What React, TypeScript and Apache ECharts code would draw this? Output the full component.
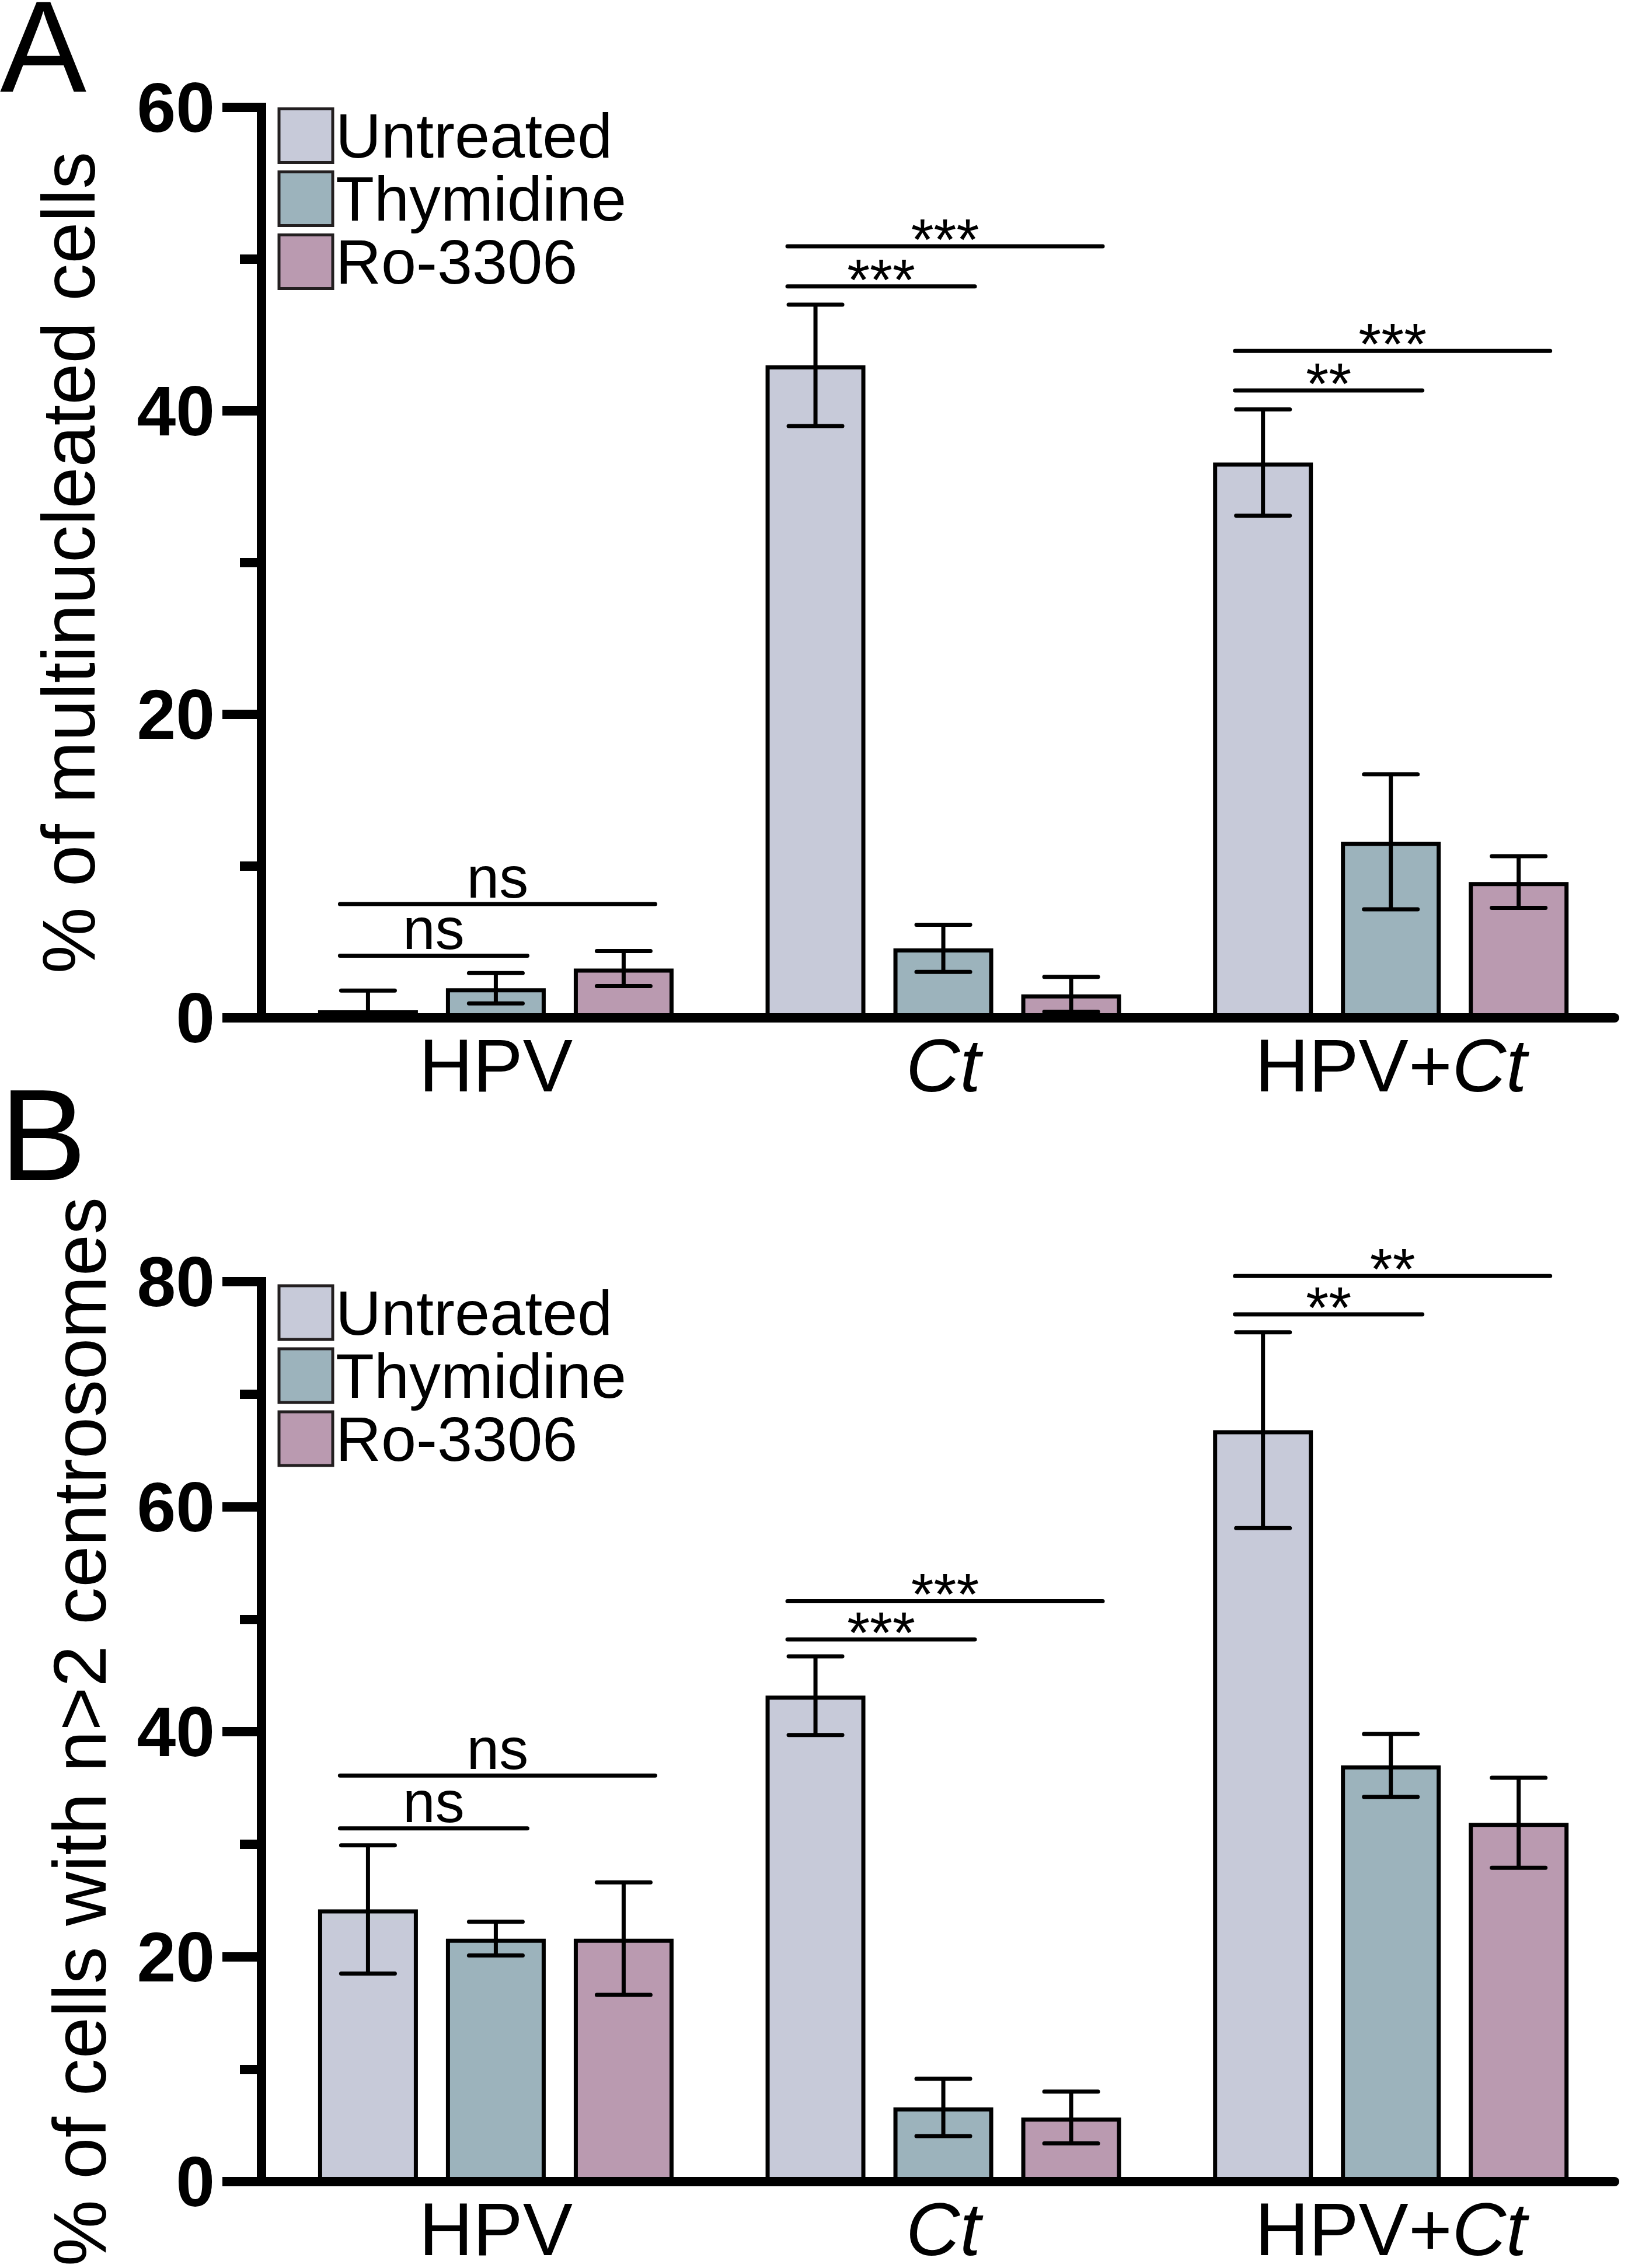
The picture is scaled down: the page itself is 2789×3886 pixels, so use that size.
import React, { useEffect, useRef } from 'react';
import * as echarts from 'echarts';

// ---------------- data ----------------
const CATEGORIES = ['HPV', 'Ct', 'HPV+Ct'];
const TREATMENTS = ['Untreated', 'Thymidine', 'Ro-3306'];
const COLORS = ['#C7CAD9', '#9CB3BC', '#BA9AB0'];

// Panel A: % of multinucleated cells (mean, error)
const A_UNTREATED = [0.5, 43.0, 36.6];
const A_UNTREATED_ERR = [1.3, 4.0, 3.5];
const A_THYMIDINE = [1.95, 4.58, 11.6];
const A_THYMIDINE_ERR = [1.0, 1.55, 4.45];
const A_RO3306 = [3.25, 1.55, 8.95];
const A_RO3306_ERR = [1.15, 1.15, 1.7];

// Panel B: % of cells with n>2 centrosomes (mean, error)
const B_UNTREATED = [24.2, 43.2, 66.8];
const B_UNTREATED_ERR = [5.7, 3.5, 8.7];
const B_THYMIDINE = [21.6, 6.6, 37.0];
const B_THYMIDINE_ERR = [1.5, 2.55, 2.8];
const B_RO3306 = [21.6, 5.7, 31.9];
const B_RO3306_ERR = [5.0, 2.3, 4.0];

// axis ranges
const A_Y_MAX = 60;
const B_Y_MAX = 80;
const Y_INTERVAL = 20;

const A_Y_TITLE = '% of multinucleated cells';
const B_Y_TITLE = '% of cells with n>2 centrosomes';

// significance brackets: [category, fromTreatment, toTreatment, level, label]
const SIG_A: [number, number, number, number, string][] = [
  [0, 0, 1, 4.1, 'ns'],
  [0, 0, 2, 7.5, 'ns'],
  [1, 0, 1, 48.2, '***'],
  [1, 0, 2, 50.85, '***'],
  [2, 0, 1, 41.35, '**'],
  [2, 0, 2, 43.95, '***'],
];
const SIG_B: [number, number, number, number, string][] = [
  [0, 0, 1, 31.4, 'ns'],
  [0, 0, 2, 36.1, 'ns'],
  [1, 0, 1, 48.2, '***'],
  [1, 0, 2, 51.6, '***'],
  [2, 0, 1, 77.1, '**'],
  [2, 0, 2, 80.5, '**'],
];

// ---------------- layout ----------------
const W = 2789;
const H = 3886;
const FONT = "'Liberation Sans', Arial, Helvetica, sans-serif";
const GRID_LEFT = 448;
const GRID_W = 2318;
const GRID_H = 1560;
const GRID_TOPS = [184, 2196];
const X_MIN = -0.5236;
const X_MAX = 2.5;
const BAR_W = 171;
const BAR_PITCH = 219;
const BAR_GAP = (((BAR_PITCH - BAR_W) / BAR_W) * 100).toFixed(2) + '%';
const CAP = 46;
const LW = 7;

const CAT_RICH = CATEGORIES.map((c) =>
  c
    .split(/(Ct)/)
    .filter(Boolean)
    .map((p) => (p === 'Ct' ? `{i|${p}}` : `{n|${p}}`))
    .join('')
);

function buildPanel(
  idx: number,
  values: number[][],
  errs: number[][],
  sig: [number, number, number, number, string][],
  yMax: number,
  yTitle: string,
  nameGap: number
) {
  const xAxis = {
    gridIndex: idx,
    type: 'value',
    min: X_MIN,
    max: X_MAX,
    z: 10,
    axisLine: { show: true, onZero: false, lineStyle: { color: '#000', width: 16 } },
    axisTick: { show: false },
    splitLine: { show: false },
    axisLabel: {
      customValues: [0, 1, 2],
      margin: 33,
      color: '#000',
      fontSize: 128,
      lineHeight: 96,
      fontFamily: FONT,
      formatter: (v: number) => {
        const i = Math.round(v);
        if (Math.abs(v - i) > 1e-6 || i < 0 || i >= CATEGORIES.length) return '';
        return CAT_RICH[i];
      },
      rich: {
        n: { fontSize: 128, lineHeight: 96, fontFamily: FONT, color: '#000' },
        i: { fontSize: 128, lineHeight: 96, fontFamily: FONT, color: '#000', fontStyle: 'italic' },
      },
    },
  };
  const yAxis = {
    gridIndex: idx,
    type: 'value',
    min: 0,
    max: yMax,
    interval: Y_INTERVAL,
    z: 10,
    name: yTitle,
    nameLocation: 'middle',
    nameRotate: 90,
    nameGap,
    nameTextStyle: { fontSize: 128, fontFamily: FONT, color: '#000' },
    axisLine: { show: true, onZero: false, lineStyle: { color: '#000', width: 16, cap: 'square' } },
    axisTick: { show: true, length: 67, lineStyle: { color: '#000', width: 16 } },
    minorTick: { show: true, splitNumber: 2, length: 37, lineStyle: { color: '#000', width: 16 } },
    splitLine: { show: false },
    axisLabel: {
      margin: 80,
      color: '#000',
      fontSize: 120,
      fontWeight: 'bold',
      fontFamily: FONT,
    },
  };

  const bars = TREATMENTS.map((name, s) => ({
    type: 'bar',
    name,
    xAxisIndex: idx,
    yAxisIndex: idx,
    data: values[s].map((v, i) => [i, v]),
    barWidth: BAR_W,
    barGap: BAR_GAP,
    z: 2,
    itemStyle: { color: COLORS[s], borderColor: '#000', borderWidth: LW },
  }));

  const errData: number[][] = [];
  TREATMENTS.forEach((_, s) => {
    values[s].forEach((v, i) => errData.push([i, v, errs[s][i], s]));
  });

  const errSeries = {
    type: 'custom',
    xAxisIndex: idx,
    yAxisIndex: idx,
    z: 5,
    clip: false,
    data: errData,
    encode: { x: 0, y: 1 },
    renderItem: (params: any, api: any) => {
      const cat = api.value(0);
      const m = api.value(1);
      const e = api.value(2);
      const s = api.value(3);
      const base = api.coord([cat, m]);
      const cx = base[0] + (s - 1) * BAR_PITCH;
      const yHi = api.coord([cat, m + e])[1];
      const lo = m - e;
      const yLo = api.coord([cat, Math.max(0, lo)])[1];
      const st = { stroke: '#000', lineWidth: LW, fill: null };
      const capSt = { stroke: '#000', lineWidth: LW, lineCap: 'round', fill: null };
      const children: any[] = [
        { type: 'line', shape: { x1: cx, y1: yHi, x2: cx, y2: yLo }, style: st },
        { type: 'line', shape: { x1: cx - CAP, y1: yHi, x2: cx + CAP, y2: yHi }, style: capSt },
      ];
      if (lo > 0) {
        children.push({ type: 'line', shape: { x1: cx - CAP, y1: yLo, x2: cx + CAP, y2: yLo }, style: capSt });
      }
      return { type: 'group', children };
    },
  };

  const sigSeries = {
    type: 'custom',
    xAxisIndex: idx,
    yAxisIndex: idx,
    z: 6,
    clip: false,
    data: sig.map((r) => [r[0], r[1], r[2], r[3]]),
    encode: { x: 0, y: 3 },
    renderItem: (params: any, api: any) => {
      const label = sig[params.dataIndex][4];
      const cat = api.value(0);
      const from = api.value(1);
      const to = api.value(2);
      const lvl = api.value(3);
      const p = api.coord([cat, lvl]);
      const x1 = p[0] + (from - 1) * BAR_PITCH - 48;
      const x2 = p[0] + (to - 1) * BAR_PITCH + 54;
      const ty = label === 'ns' ? p[1] - 46 : p[1] - 12;
      return {
        type: 'group',
        children: [
          {
            type: 'line',
            shape: { x1, y1: p[1], x2, y2: p[1] },
            style: { stroke: '#000', lineWidth: LW, lineCap: 'round', fill: null },
          },
          {
            type: 'text',
            x: (x1 + x2) / 2,
            y: ty,
            style: {
              text: label,
              fontSize: 100,
              fontFamily: FONT,
              fill: '#000',
              align: 'center',
              verticalAlign: 'middle',
              textAlign: 'center',
              textVerticalAlign: 'middle',
            },
          },
        ],
      };
    },
  };

  return { xAxis, yAxis, series: [...bars, errSeries, sigSeries] };
}

export default function App() {
  const ref = useRef<HTMLDivElement>(null);

  useEffect(() => {
    if (!ref.current) return;
    const chart = echarts.init(ref.current, undefined, { renderer: 'svg', width: W, height: H });

    const pA = buildPanel(
      0,
      [A_UNTREATED, A_THYMIDINE, A_RO3306],
      [A_UNTREATED_ERR, A_THYMIDINE_ERR, A_RO3306_ERR],
      SIG_A,
      A_Y_MAX,
      A_Y_TITLE,
      267
    );
    const pB = buildPanel(
      1,
      [B_UNTREATED, B_THYMIDINE, B_RO3306],
      [B_UNTREATED_ERR, B_THYMIDINE_ERR, B_RO3306_ERR],
      SIG_B,
      B_Y_MAX,
      B_Y_TITLE,
      248
    );

    const legendBase = {
      data: TREATMENTS,
      orient: 'vertical',
      left: 475.5,
      padding: 0,
      itemWidth: 92,
      itemHeight: 92,
      itemGap: 0,
      icon: 'rect',
      selectedMode: false,
      itemStyle: { borderColor: '#231f20', borderWidth: 5 },
      textStyle: { fontSize: 108, fontFamily: FONT, color: '#000' },
    };

    const letterStyle = {
      fontSize: 222,
      lineHeight: 150,
      fontFamily: FONT,
      fill: '#000',
      align: 'left',
      verticalAlign: 'middle',
      textAlign: 'left',
      textVerticalAlign: 'middle',
    };

    const option = {
      animation: false,
      backgroundColor: '#fff',
      grid: GRID_TOPS.map((top) => ({ left: GRID_LEFT, top, width: GRID_W, height: GRID_H })),
      xAxis: [pA.xAxis, pB.xAxis],
      yAxis: [pA.yAxis, pB.yAxis],
      legend: [
        { ...legendBase, top: 178.5 },
        { ...legendBase, top: 2195 },
      ],
      graphic: [
        { type: 'text', x: 0, y: 80, style: { ...letterStyle, text: 'A' } },
        { type: 'text', x: 0, y: 1945, style: { ...letterStyle, text: 'B' } },
      ],
      series: [...pA.series, ...pB.series],
    };

    chart.setOption(option as any);
    return () => chart.dispose();
  }, []);

  return (
    <div
      ref={ref}
      style={{ position: 'absolute', left: 0, top: 0, width: W, height: H, background: '#fff' }}
    />
  );
}
